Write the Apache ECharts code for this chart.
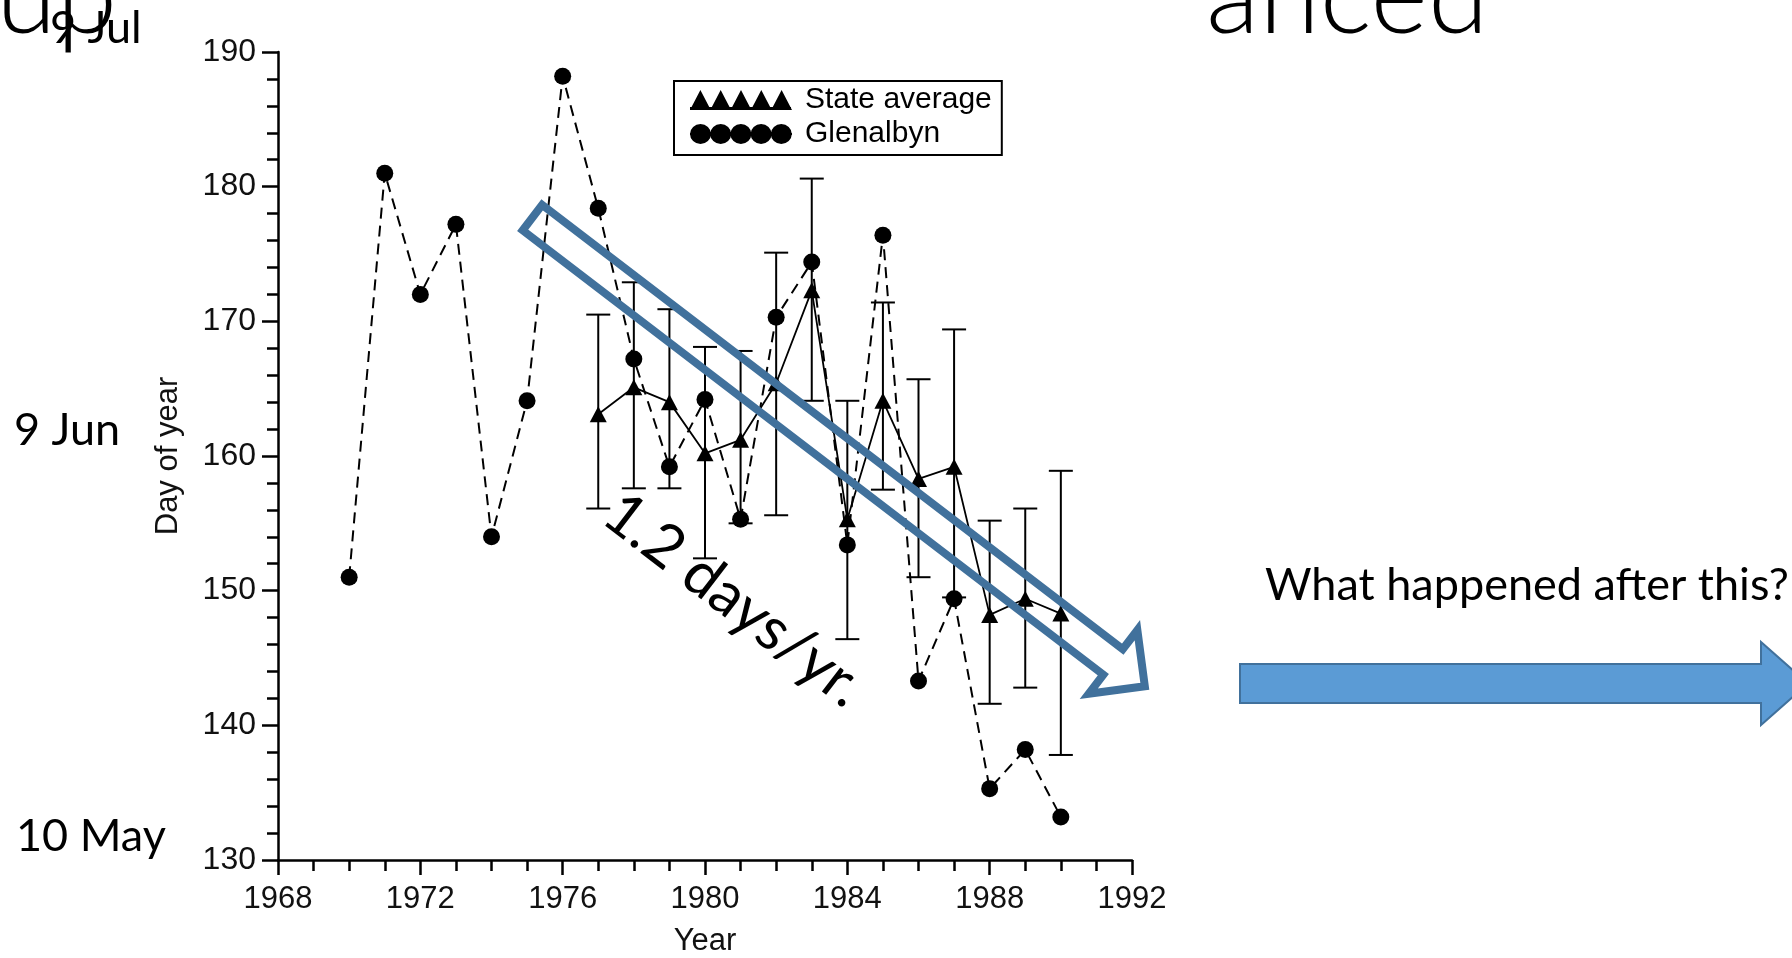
<!DOCTYPE html>
<html>
<head>
<meta charset="utf-8">
<script src="https://cdn.jsdelivr.net/npm/echarts@6/dist/echarts.min.js"></script>
<style>
  html, body { margin: 0; padding: 0; background: #fff; overflow: hidden; }
  #chart { width: 1792px; height: 958px; }
</style>
</head>
<body>
<div id="chart"></div>
<script>
// Flowering date (day of year) — Glenalbyn record and the state average
const glenYears = [1970, 1971, 1972, 1973, 1974, 1975, 1976, 1977, 1978, 1979, 1980,
                   1981, 1982, 1983, 1984, 1985, 1986, 1987, 1988, 1989, 1990];
const glenalbyn = [151, 181, 172, 177.2, 154, 164.1, 188.2, 178.4, 167.2, 159.2, 164.2,
                   155.3, 170.3, 174.4, 153.4, 176.4, 143.3, 149.4, 135.3, 138.2, 133.2];

const stateYears   = [1977, 1978, 1979, 1980, 1981, 1982, 1983, 1984, 1985, 1986, 1987, 1988, 1989, 1990];
const stateAverage = [163.1, 165.1, 164.0, 160.2, 161.2, 165.4, 172.3, 155.3, 164.1, 158.3, 159.2, 148.2, 149.4, 148.3];
const stateLow     = [156.1, 157.6, 157.6, 152.4, 155.0, 155.6, 164.1, 146.4, 157.5, 151.0, 149.5, 141.6, 142.8, 137.8];
const stateHigh    = [170.5, 172.9, 170.9, 168.1, 167.8, 175.1, 180.6, 164.1, 171.4, 165.7, 169.4, 155.2, 156.1, 158.9];

const yearRange = [1968, 1992];
const dayRange  = [130, 190];

// Calendar dates beside the day-of-year axis
const dateLabels = ['9 Jul', '9 Jun', '10 May'];

// Trend annotation: arrow from tail to tip (year, day) and its rate label
const trendTail = [1975.15, 177.7];
const trendTip  = [1992.36, 142.9];
const trendText = '1.2 days/yr.';

const slideQuestion = 'What happened after this?';
const titleLeft  = 'up';
const titleRight = 'anced';

const chartFont = '"Liberation Sans", Arial, sans-serif';
const slideFont = 'Lato, "Open Sans", sans-serif';

const glenSeries  = glenYears.map((y, i) => [y, glenalbyn[i]]);
const stateSeries = stateYears.map((y, i) => [y, stateAverage[i]]);
const errSeries   = stateYears.map((y, i) => [y, stateLow[i], stateHigh[i]]);

// legend icons: a row of five triangles on a bar, and a row of five dots on a bar
function triangleRow() {
  let p = 'path://M0,17L102,17L102,20L0,20Z';
  for (let i = 0; i < 5; i++) {
    const x0 = i * 20.5;
    p += 'M' + x0 + ',20L' + (x0 + 10.5) + ',0L' + (x0 + 21) + ',20Z';
  }
  return p;
}
function dotRow() {
  let p = 'path://M0,9L102,9L102,11L0,11Z';
  for (let i = 0; i < 5; i++) {
    const cx = 10.5 + i * 20.2;
    p += 'M' + (cx - 10.5) + ',10A10.5,10 0 1,1 ' + (cx + 10.5) + ',10A10.5,10 0 1,1 ' + (cx - 10.5) + ',10Z';
  }
  return p;
}

const chart = echarts.init(document.getElementById('chart'), null, { renderer: 'canvas' });

const axisLine = { show: true, lineStyle: { color: '#000', width: 2.5 } };

chart.setOption({
  animation: false,
  backgroundColor: '#fff',
  grid: { left: 278, top: 52, right: 660, bottom: 98, containLabel: false, outerBoundsMode: 'none' },
  legend: {
    orient: 'vertical',
    left: 674, top: 81,
    padding: [4, 10, 6, 16],
    itemGap: 4,
    itemWidth: 102, itemHeight: 20,
    borderColor: '#000', borderWidth: 2,
    selectedMode: false,
    textStyle: { fontFamily: chartFont, fontSize: 30, color: '#000', lineHeight: 30, padding: [0, 0, 0, 8] },
    data: [
      { name: 'State average', icon: triangleRow() },
      { name: 'Glenalbyn', icon: dotRow() }
    ]
  },
  xAxis: {
    type: 'value',
    min: yearRange[0], max: yearRange[1], interval: 4,
    name: 'Year', nameLocation: 'middle', nameGap: 66,
    nameTextStyle: { fontFamily: chartFont, fontSize: 31, color: '#111' },
    axisLine: axisLine,
    axisTick: { show: true, inside: false, length: 15, lineStyle: { color: '#000', width: 2.5 } },
    minorTick: { show: true, splitNumber: 4, length: 11, lineStyle: { color: '#000', width: 2.5 } },
    axisLabel: { fontFamily: chartFont, fontSize: 31, color: '#111', margin: 24,
                 formatter: (v) => String(v) },
    splitLine: { show: false }
  },
  yAxis: {
    type: 'value',
    min: dayRange[0], max: dayRange[1], interval: 10,
    name: 'Day of year', nameLocation: 'middle', nameGap: 94, nameRotate: 90,
    nameTextStyle: { fontFamily: chartFont, fontSize: 31, color: '#111' },
    axisLine: axisLine,
    axisTick: { show: true, inside: false, length: 16, lineStyle: { color: '#000', width: 2.5 } },
    minorTick: { show: true, splitNumber: 5, length: 11, lineStyle: { color: '#000', width: 2.5 } },
    axisLabel: { fontFamily: chartFont, fontSize: 32, color: '#111', margin: 22 },
    splitLine: { show: false }
  },
  series: [
    {
      name: 'State average range',
      type: 'custom',
      data: errSeries,
      z: 2,
      renderItem: function (params, api) {
        const x = api.value(0);
        const lo = api.coord([x, api.value(1)]);
        const hi = api.coord([x, api.value(2)]);
        const half = 12;
        const style = { stroke: '#000', lineWidth: 2 };
        return {
          type: 'group',
          children: [
            { type: 'line', shape: { x1: lo[0], y1: lo[1], x2: hi[0], y2: hi[1] }, style: style },
            { type: 'line', shape: { x1: hi[0] - half, y1: hi[1], x2: hi[0] + half, y2: hi[1] }, style: style },
            { type: 'line', shape: { x1: lo[0] - half, y1: lo[1], x2: lo[0] + half, y2: lo[1] }, style: style }
          ]
        };
      }
    },
    {
      name: 'State average',
      type: 'line',
      data: stateSeries,
      z: 3,
      symbol: 'triangle',
      symbolSize: [17, 16],
      itemStyle: { color: '#000' },
      lineStyle: { color: '#000', width: 1.8 }
    },
    {
      name: 'Glenalbyn',
      type: 'line',
      data: glenSeries,
      z: 4,
      symbol: 'circle',
      symbolSize: 17,
      itemStyle: { color: '#000' },
      lineStyle: { color: '#000', width: 2, type: [11, 7] }
    }
  ]
});

// Slide annotations drawn over the chart
function buildGraphics() {
  const toPx = (p) => chart.convertToPixel({ xAxisIndex: 0, yAxisIndex: 0 }, p);
  const T = toPx(trendTail);
  const P = toPx(trendTip);
  const dx = P[0] - T[0], dy = P[1] - T[1];
  const len = Math.sqrt(dx * dx + dy * dy);
  const u = [dx / len, dy / len];
  const n = [u[1], -u[0]];
  const hShaft = 16, hHead = 40, headLen = 40;
  const B = [P[0] - u[0] * headLen, P[1] - u[1] * headLen];
  const pt = (o, k) => [o[0] + n[0] * k, o[1] + n[1] * k];
  const arrowPts = [pt(T, hShaft), pt(B, hShaft), pt(B, hHead), P, pt(B, -hHead), pt(B, -hShaft), pt(T, -hShaft)];
  const angle = Math.atan2(dy, dx);

  const yOf = (d) => toPx([yearRange[0], d])[1];

  return [
    // trend arrow (outline only)
    { type: 'polygon', z: 100, shape: { points: arrowPts },
      style: { fill: 'none', stroke: '#41719C', lineWidth: 8, lineJoin: 'miter' } },
    { type: 'text', z: 100, x: 734, y: 600, rotation: -angle,
      style: { text: trendText, fontFamily: slideFont, fontSize: 60, fill: '#000', align: 'center', verticalAlign: 'middle' } },

    // calendar dates
    { type: 'text', z: 100, x: 50, y: yOf(190) - 24,
      style: { text: dateLabels[0], fontFamily: slideFont, fontSize: 45, fill: '#000', align: 'left', verticalAlign: 'middle' } },
    { type: 'text', z: 100, x: 14, y: yOf(160) - 26,
      style: { text: dateLabels[1], fontFamily: slideFont, fontSize: 45, fill: '#000', align: 'left', verticalAlign: 'middle' } },
    { type: 'text', z: 100, x: 16, y: yOf(130) - 24,
      style: { text: dateLabels[2], fontFamily: slideFont, fontSize: 45, fill: '#000', align: 'left', verticalAlign: 'middle' } },

    // title fragments at the top edge
    { type: 'text', z: 101, x: -4, y: -2,
      style: { text: titleLeft, fontFamily: slideFont, fontWeight: 300, fontSize: 110, fill: '#000', align: 'left', verticalAlign: 'middle' } },
    { type: 'text', z: 101, x: 1206, y: -2,
      style: { text: titleRight, fontFamily: slideFont, fontWeight: 300, fontSize: 110, fill: '#000', align: 'left', verticalAlign: 'middle' } },

    // question and forward arrow
    { type: 'text', z: 100, x: 1265, y: 585,
      style: { text: slideQuestion, fontFamily: slideFont, fontSize: 45, fill: '#000', align: 'left', verticalAlign: 'middle' } },
    { type: 'polygon', z: 100,
      shape: { points: [[1240, 664], [1761, 664], [1761, 642], [1808, 683.5], [1761, 725], [1761, 703], [1240, 703]] },
      style: { fill: '#5B9BD5', stroke: '#41719C', lineWidth: 2 } }
  ];
}

chart.setOption({ graphic: buildGraphics() });
</script>
</body>
</html>
